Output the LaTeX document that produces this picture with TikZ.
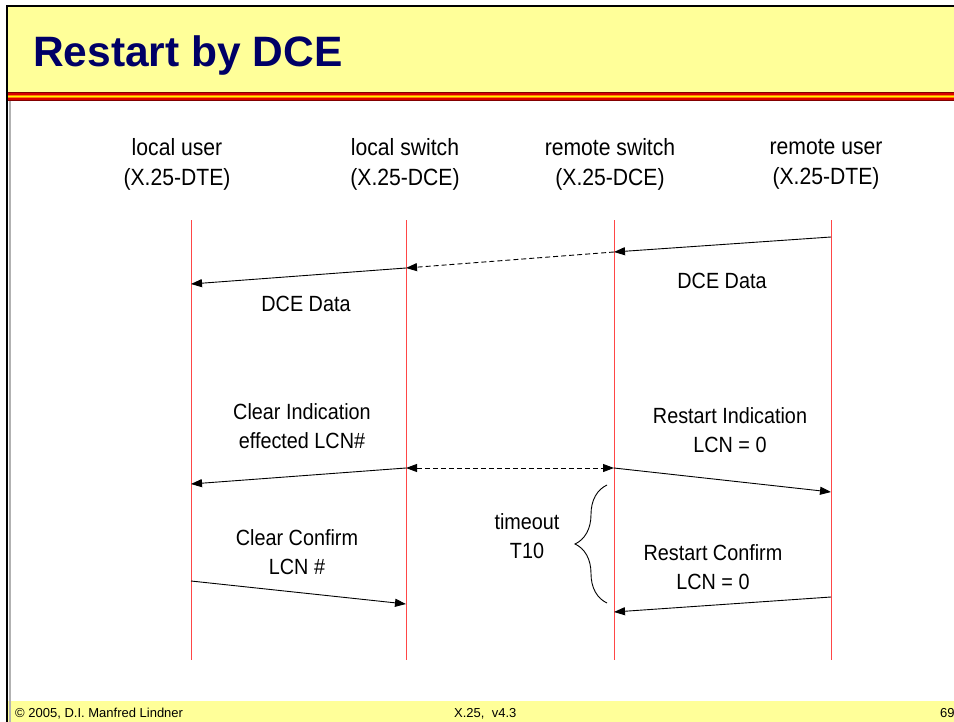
\documentclass[tikz,border=0pt]{standalone}
\usepackage{fontspec}
\setmainfont{Liberation Sans}
\newfontfamily\narrowfont[FakeStretch=0.9]{Liberation Sans}
\usepackage{tikz}
\usetikzlibrary{arrows.meta, decorations.pathreplacing}
\definecolor{slideyellow}{RGB}{255,255,153}
\definecolor{titleblue}{RGB}{0,0,102}
\definecolor{stripered}{RGB}{130,0,0}
\definecolor{lifered}{RGB}{255,70,70}

\begin{document}
\begin{tikzpicture}[x=1bp, y=-1bp, >={Triangle[length=11bp,width=8bp]},
         life/.style={draw=lifered, line width=0.9bp},
         msg/.style={->, line width=0.9bp},
         dsh/.style={dash pattern=on 5bp off 3bp},
         head/.style={align=center, inner sep=0pt,
         % Font
         font=\narrowfont\fontsize{23.5bp}{30bp}\selectfont},
         lbl/.style={align=center, inner sep=0pt,
         font=\narrowfont\fontsize{22bp}{29bp}\selectfont},
         foot/.style={anchor=base west, inner sep=0pt,
         font=\fontsize{13bp}{15bp}\selectfont}]
   \useasboundingbox (0,0) rectangle (954,722);
   \fill[white] (0,0) rectangle (954,722);
   %% slide frame, title bar and footer
   \fill[slideyellow] (7,6) rectangle (954,92);
   \foreach \ya \yb \c in {92/101/stripered, 93.3/99.7/red!85!black, 94.6/98.4/orange,
                           95.8/97.2/yellow}{
      \fill[\c] (7,\ya) rectangle (954,\yb);
   };
   \fill[slideyellow] (7,701) rectangle (954,722);
   \draw[gray!60, line width=2bp] (9.5,101) -- (9.5,722);
   \draw[line width=2bp] (7,722) -- (7,6) -- (954,6);
   \node[anchor=base west, inner sep=0pt, text=titleblue,
         font=\bfseries\fontsize{42.5bp}{50bp}\selectfont] (title) at (33,67) {Restart by DCE};
   \node[foot] (copyright) at (15,717) {© 2005, D.I. Manfred Lindner};
   \node[foot] (version) at (454,717) {X.25,\ \ v4.3};
   \node[foot] (pagenr) at (940,717) {69};
   %% stations
   \foreach \x \hx \n \w \t in {191/177/lu/local user/DTE, 406/405/ls/local switch/DCE,
                                614/610/rs/remote switch/DCE, 831/826/ru/remote user/DTE}{
      \node[head] (\n head) at (\hx,164) {\w\\(X.25-\t)};
      \coordinate (\n top) at (\x,220);
      \coordinate (\n bot) at (\x,660);
      \draw[life] (\n top) -- (\n bot);
   };
   %% DCE data
   \coordinate (ru1) at (831,237);
   \coordinate (rs1) at (614,252);
   \coordinate (ls1) at (406,268);
   \coordinate (lu1) at (191,284);
   \draw[msg] (ru1) -- (rs1);
   \draw[msg, dsh] (rs1) -- (ls1);
   \draw[msg] (ls1) -- (lu1);
   \node[lbl] (dataleft) at (306,304) {DCE Data};
   \node[lbl] (dataright) at (722,281) {DCE Data};
   %% restart / clear indication
   \coordinate (ls2) at (406,468);
   \coordinate (rs2) at (614,468);
   \coordinate (lu2) at (191,484);
   \coordinate (ru2) at (831,492);
   \draw[<->, line width=0.9bp, dsh] (ls2) -- (rs2);
   \draw[msg] (ls2) -- (lu2);
   \draw[msg] (rs2) -- (ru2);
   \node[lbl] (clearind) at (302,426) {Clear Indication\\effected LCN\#};
   \node[lbl] (restartind) at (730,430) {Restart Indication\\LCN = 0};
   %% confirms
   \coordinate (lu3) at (191,581);
   \coordinate (ls3) at (406,604);
   \coordinate (ru3) at (831,597);
   \coordinate (rs3) at (614,612);
   \draw[msg] (lu3) -- (ls3);
   \draw[msg] (ru3) -- (rs3);
   \node[lbl] (clearconf) at (297,552) {Clear Confirm\\LCN \#};
   \node[lbl] (restartconf) at (713,567) {Restart Confirm\\LCN = 0};
   %% timer
   \coordinate (bracelow) at (607,603);
   \coordinate (braceup) at (607,485);
   \draw[line width=0.9bp, decorate, decoration={brace, amplitude=32bp}] (bracelow) -- (braceup);
   \node[lbl] (timeout) at (527,536) {timeout\\T10};
\end{tikzpicture}
\end{document}
